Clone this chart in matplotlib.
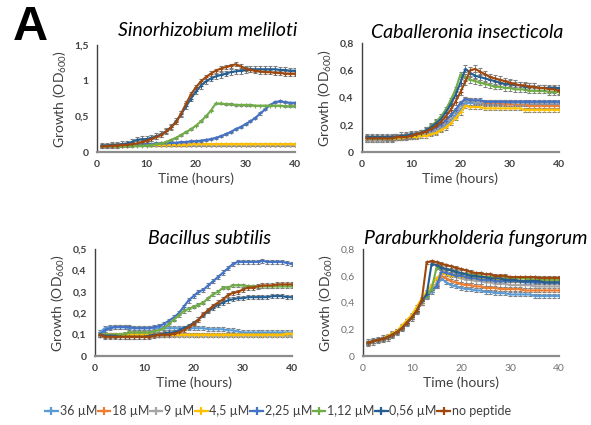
import matplotlib
matplotlib.use("Agg")
import matplotlib.pyplot as plt
from matplotlib.lines import Line2D

plt.rcParams['font.family'] = ['Lato', 'DejaVu Sans']
plt.rcParams['mathtext.default'] = 'regular'

# ---------------- data ----------------
hours = list(range(1, 41))
series_labels = ["36 µM", "18 µM", "9 µM", "4,5 µM", "2,25 µM", "1,12 µM", "0,56 µM", "no peptide"]
series_colors = ["#5B9BD5", "#ED7D31", "#A5A5A5", "#FFC000", "#4472C4", "#70AD47", "#255E91", "#9E480E"]

# Sinorhizobium meliloti
sm_36 = [0.09,0.09,0.09,0.09,0.10,0.10,0.10,0.10,0.10,0.10, 0.10,0.10,0.10,0.10,0.10,0.10,0.10,0.10,0.10,0.10,
         0.10,0.10,0.10,0.10,0.10,0.10,0.10,0.10,0.10,0.10, 0.10,0.10,0.10,0.10,0.10,0.10,0.10,0.10,0.10,0.10]
sm_18 = [0.09,0.09,0.09,0.09,0.09,0.09,0.10,0.10,0.10,0.10, 0.10,0.10,0.10,0.10,0.10,0.10,0.10,0.10,0.10,0.10,
         0.10,0.10,0.10,0.10,0.10,0.10,0.10,0.10,0.10,0.10, 0.10,0.10,0.10,0.10,0.10,0.10,0.10,0.10,0.10,0.10]
sm_9 = [0.09,0.09,0.09,0.10,0.10,0.10,0.10,0.10,0.10,0.10, 0.10,0.10,0.10,0.10,0.10,0.10,0.10,0.10,0.10,0.10,
        0.10,0.10,0.10,0.10,0.10,0.10,0.10,0.10,0.10,0.10, 0.10,0.10,0.10,0.10,0.10,0.10,0.10,0.10,0.10,0.10]
sm_4_5 = [0.09,0.09,0.10,0.10,0.10,0.10,0.10,0.10,0.10,0.10, 0.10,0.10,0.10,0.10,0.10,0.10,0.10,0.10,0.11,0.11,
          0.11,0.11,0.11,0.11,0.11,0.11,0.11,0.11,0.11,0.11, 0.11,0.11,0.11,0.11,0.11,0.11,0.11,0.11,0.11,0.11]
sm_2_25 = [0.09,0.09,0.09,0.10,0.10,0.10,0.10,0.10,0.11,0.11, 0.11,0.12,0.12,0.12,0.13,0.13,0.14,0.14,0.15,0.15,
           0.16,0.17,0.18,0.20,0.22,0.25,0.28,0.32,0.35,0.39, 0.43,0.48,0.54,0.60,0.66,0.70,0.71,0.70,0.69,0.69]
sm_1_12 = [0.08,0.08,0.08,0.08,0.08,0.08,0.08,0.09,0.09,0.09, 0.10,0.11,0.12,0.14,0.17,0.20,0.24,0.28,0.32,0.37,
           0.43,0.50,0.58,0.68,0.68,0.67,0.67,0.66,0.66,0.66, 0.66,0.65,0.65,0.65,0.65,0.65,0.65,0.64,0.64,0.64]
sm_0_56 = [0.09,0.09,0.10,0.10,0.11,0.12,0.14,0.17,0.18,0.18, 0.20,0.22,0.25,0.29,0.35,0.43,0.53,0.64,0.75,0.85,
           0.93,0.99,1.03,1.06,1.08,1.10,1.12,1.13,1.14,1.15, 1.16,1.16,1.16,1.16,1.16,1.16,1.15,1.15,1.14,1.14]
sm_none = [0.08,0.08,0.09,0.09,0.10,0.10,0.11,0.12,0.14,0.16, 0.18,0.21,0.24,0.29,0.35,0.42,0.54,0.68,0.81,0.91,
           0.99,1.05,1.10,1.14,1.17,1.19,1.21,1.23,1.20,1.17, 1.15,1.14,1.13,1.12,1.12,1.11,1.11,1.10,1.10,1.10]
sm_err = [0.01, 0.01, 0.01, 0.01, 0.015, 0.012, 0.04, 0.03]

# Caballeronia insecticola
ci_36 = [0.10,0.10,0.10,0.10,0.10,0.10,0.10,0.10,0.11,0.11, 0.11,0.12,0.13,0.14,0.15,0.17,0.19,0.23,0.27,0.31,
         0.36,0.36,0.36,0.36,0.36,0.36,0.36,0.36,0.36,0.35, 0.35,0.35,0.35,0.35,0.35,0.35,0.35,0.35,0.35,0.35]
ci_18 = [0.10,0.10,0.10,0.10,0.10,0.10,0.11,0.11,0.11,0.12, 0.12,0.13,0.14,0.15,0.17,0.19,0.22,0.26,0.30,0.35,
         0.39,0.38,0.37,0.37,0.36,0.36,0.36,0.36,0.35,0.35, 0.35,0.35,0.35,0.34,0.34,0.34,0.34,0.34,0.34,0.34]
ci_9 = [0.09,0.09,0.09,0.09,0.10,0.10,0.10,0.11,0.11,0.11, 0.12,0.13,0.14,0.15,0.17,0.19,0.22,0.26,0.30,0.34,
        0.38,0.38,0.37,0.37,0.37,0.37,0.37,0.37,0.37,0.37, 0.36,0.36,0.36,0.36,0.36,0.36,0.36,0.36,0.36,0.36]
ci_4_5 = [0.10,0.10,0.10,0.10,0.10,0.10,0.10,0.10,0.11,0.11, 0.11,0.12,0.12,0.13,0.14,0.16,0.18,0.21,0.25,0.29,
          0.34,0.33,0.33,0.33,0.32,0.32,0.32,0.32,0.32,0.32, 0.32,0.32,0.31,0.31,0.31,0.31,0.31,0.31,0.31,0.31]
ci_2_25 = [0.10,0.10,0.10,0.10,0.11,0.11,0.11,0.11,0.12,0.12, 0.13,0.14,0.15,0.16,0.18,0.20,0.23,0.27,0.31,0.36,
           0.39,0.38,0.38,0.38,0.37,0.37,0.37,0.37,0.37,0.37, 0.37,0.37,0.37,0.37,0.37,0.37,0.37,0.37,0.37,0.37]
ci_1_12 = [0.10,0.10,0.10,0.10,0.10,0.10,0.11,0.11,0.12,0.12, 0.13,0.14,0.16,0.19,0.22,0.26,0.31,0.38,0.46,0.57,
           0.55,0.53,0.52,0.51,0.50,0.49,0.48,0.48,0.47,0.47, 0.46,0.46,0.46,0.45,0.45,0.45,0.45,0.44,0.44,0.44]
ci_0_56 = [0.11,0.11,0.11,0.11,0.11,0.11,0.11,0.12,0.12,0.13, 0.13,0.14,0.16,0.18,0.21,0.24,0.29,0.35,0.42,0.51,
           0.61,0.58,0.56,0.55,0.54,0.53,0.52,0.51,0.50,0.50, 0.49,0.49,0.48,0.48,0.48,0.47,0.47,0.47,0.47,0.47]
ci_none = [0.10,0.10,0.10,0.10,0.10,0.10,0.11,0.11,0.11,0.12, 0.13,0.14,0.15,0.17,0.19,0.22,0.26,0.31,0.37,0.44,
           0.52,0.60,0.61,0.59,0.57,0.55,0.54,0.53,0.52,0.51, 0.50,0.49,0.49,0.48,0.48,0.47,0.47,0.46,0.46,0.45]
ci_err = [0.015, 0.015, 0.015, 0.015, 0.015, 0.02, 0.025, 0.025]

# Bacillus subtilis
bs_36 = [0.11,0.13,0.135,0.135,0.135,0.135,0.13,0.13,0.13,0.13, 0.13,0.13,0.13,0.13,0.13,0.13,0.13,0.13,0.13,0.13,
         0.13,0.13,0.125,0.125,0.125,0.125,0.12,0.12,0.115,0.11, 0.11,0.11,0.11,0.11,0.11,0.11,0.11,0.11,0.11,0.11]
bs_18 = [0.10,0.10,0.10,0.10,0.10,0.10,0.10,0.10,0.10,0.10, 0.10,0.10,0.10,0.10,0.10,0.10,0.10,0.10,0.10,0.10,
         0.10,0.10,0.10,0.10,0.10,0.10,0.10,0.10,0.10,0.10, 0.10,0.10,0.10,0.10,0.10,0.10,0.10,0.10,0.10,0.10]
bs_9 = [0.095,0.095,0.095,0.095,0.095,0.095,0.095,0.095,0.095,0.095, 0.095,0.095,0.095,0.095,0.095,0.095,0.095,0.095,0.095,0.095,
        0.095,0.095,0.095,0.095,0.095,0.095,0.095,0.095,0.095,0.095, 0.095,0.095,0.095,0.095,0.095,0.095,0.095,0.095,0.095,0.095]
bs_4_5 = [0.10,0.10,0.10,0.10,0.10,0.10,0.10,0.10,0.10,0.10, 0.10,0.10,0.10,0.10,0.10,0.10,0.10,0.10,0.10,0.10,
          0.10,0.10,0.10,0.10,0.10,0.10,0.10,0.10,0.10,0.10, 0.10,0.10,0.10,0.10,0.10,0.10,0.10,0.10,0.105,0.105]
bs_2_25 = [0.10,0.12,0.13,0.135,0.135,0.135,0.135,0.13,0.13,0.13, 0.13,0.135,0.14,0.15,0.165,0.18,0.20,0.23,0.26,0.28,
           0.30,0.31,0.33,0.35,0.37,0.39,0.41,0.43,0.44,0.44, 0.44,0.44,0.44,0.445,0.44,0.44,0.44,0.44,0.435,0.43]
bs_1_12 = [0.10,0.10,0.10,0.10,0.10,0.105,0.11,0.11,0.11,0.11, 0.11,0.115,0.12,0.13,0.15,0.17,0.19,0.21,0.22,0.23,
           0.24,0.25,0.27,0.29,0.30,0.32,0.32,0.33,0.33,0.33, 0.325,0.325,0.325,0.325,0.325,0.325,0.325,0.325,0.325,0.325]
bs_0_56 = [0.10,0.095,0.095,0.095,0.09,0.09,0.09,0.09,0.09,0.09, 0.095,0.10,0.10,0.105,0.11,0.11,0.12,0.13,0.14,0.155,
           0.17,0.19,0.21,0.225,0.24,0.25,0.26,0.265,0.27,0.27, 0.275,0.275,0.275,0.275,0.275,0.28,0.28,0.28,0.275,0.275]
bs_none = [0.10,0.09,0.09,0.09,0.09,0.09,0.09,0.09,0.09,0.09, 0.09,0.095,0.10,0.10,0.10,0.105,0.11,0.12,0.135,0.15,
           0.17,0.195,0.215,0.235,0.25,0.265,0.285,0.295,0.30,0.31, 0.32,0.32,0.325,0.33,0.33,0.33,0.335,0.335,0.335,0.335]
bs_err = [0.01, 0.008, 0.008, 0.008, 0.01, 0.008, 0.01, 0.01]

# Paraburkholderia fungorum
pf_36 = [0.10,0.11,0.12,0.13,0.14,0.16,0.18,0.21,0.25,0.29, 0.34,0.40,0.44,0.48,0.52,0.58,0.55,0.53,0.52,0.51,
         0.50,0.50,0.49,0.49,0.48,0.48,0.47,0.47,0.47,0.46, 0.46,0.46,0.46,0.46,0.45,0.45,0.45,0.45,0.45,0.45]
pf_18 = [0.10,0.11,0.12,0.13,0.14,0.16,0.18,0.21,0.25,0.29, 0.34,0.40,0.45,0.49,0.54,0.60,0.58,0.56,0.55,0.54,
         0.53,0.53,0.52,0.52,0.51,0.51,0.51,0.50,0.50,0.50, 0.50,0.50,0.49,0.49,0.49,0.49,0.49,0.49,0.49,0.49]
pf_9 = [0.10,0.11,0.12,0.13,0.14,0.16,0.18,0.21,0.25,0.29, 0.34,0.41,0.46,0.50,0.54,0.62,0.61,0.60,0.59,0.58,
        0.57,0.57,0.56,0.56,0.55,0.55,0.54,0.54,0.54,0.53, 0.53,0.53,0.53,0.53,0.52,0.52,0.52,0.52,0.52,0.52]
pf_4_5 = [0.10,0.11,0.12,0.13,0.15,0.17,0.19,0.23,0.27,0.31, 0.37,0.43,0.48,0.53,0.58,0.62,0.61,0.60,0.60,0.59,
          0.59,0.58,0.58,0.58,0.57,0.57,0.57,0.57,0.57,0.56, 0.56,0.56,0.56,0.56,0.56,0.56,0.56,0.56,0.56,0.56]
pf_2_25 = [0.10,0.11,0.12,0.13,0.14,0.16,0.18,0.21,0.25,0.29, 0.34,0.41,0.46,0.49,0.52,0.63,0.62,0.61,0.60,0.60,
           0.59,0.58,0.58,0.57,0.57,0.57,0.56,0.56,0.56,0.56, 0.56,0.56,0.55,0.55,0.55,0.55,0.55,0.55,0.55,0.55]
pf_1_12 = [0.10,0.11,0.12,0.13,0.14,0.16,0.18,0.21,0.25,0.29, 0.34,0.41,0.45,0.50,0.66,0.66,0.65,0.64,0.63,0.62,
           0.61,0.61,0.60,0.60,0.59,0.59,0.59,0.58,0.58,0.58, 0.58,0.58,0.58,0.57,0.57,0.57,0.57,0.57,0.57,0.57]
pf_0_56 = [0.10,0.11,0.12,0.13,0.14,0.16,0.18,0.21,0.25,0.29, 0.34,0.41,0.46,0.69,0.68,0.66,0.65,0.64,0.63,0.62,
           0.61,0.60,0.60,0.59,0.59,0.58,0.58,0.58,0.57,0.57, 0.57,0.56,0.56,0.56,0.56,0.56,0.55,0.55,0.55,0.55]
pf_none = [0.10,0.11,0.12,0.13,0.14,0.16,0.18,0.21,0.25,0.29, 0.34,0.42,0.70,0.71,0.70,0.69,0.68,0.67,0.66,0.65,
           0.64,0.63,0.62,0.62,0.61,0.61,0.60,0.60,0.60,0.59, 0.59,0.59,0.59,0.59,0.59,0.585,0.585,0.585,0.585,0.585]
pf_err = [0.015, 0.015, 0.025, 0.01, 0.01, 0.01, 0.01, 0.01]

titles = ["Sinorhizobium meliloti", "Caballeronia insecticola", "Bacillus subtilis", "Paraburkholderia fungorum"]
x_ticks = [0, 10, 20, 30, 40]
y_ticks_sm = [0, 0.5, 1, 1.5]
y_labels_sm = ["0", "0,5", "1", "1,5"]
y_ticks_08 = [0, 0.2, 0.4, 0.6, 0.8]
y_labels_08 = ["0", "0,2", "0,4", "0,6", "0,8"]
y_ticks_05 = [0, 0.1, 0.2, 0.3, 0.4, 0.5]
y_labels_05 = ["0", "0,1", "0,2", "0,3", "0,4", "0,5"]

panels = [
    dict(data=[sm_36, sm_18, sm_9, sm_4_5, sm_2_25, sm_1_12, sm_0_56, sm_none], err=sm_err,
         yt=y_ticks_sm, yl=y_labels_sm, rect=(97, 45, 295, 152), title_xy=(208, 31), bold=True),
    dict(data=[ci_36, ci_18, ci_9, ci_4_5, ci_2_25, ci_1_12, ci_0_56, ci_none], err=ci_err,
         yt=y_ticks_08, yl=y_labels_08, rect=(362, 43, 559, 152), title_xy=(467, 32), bold=True),
    dict(data=[bs_36, bs_18, bs_9, bs_4_5, bs_2_25, bs_1_12, bs_0_56, bs_none], err=bs_err,
         yt=y_ticks_05, yl=y_labels_05, rect=(95, 249, 292, 356), title_xy=(210, 238), bold=True),
    dict(data=[pf_36, pf_18, pf_9, pf_4_5, pf_2_25, pf_1_12, pf_0_56, pf_none], err=pf_err,
         yt=y_ticks_08, yl=y_labels_08, rect=(363, 249, 559, 356), title_xy=(476, 238), bold=False),
]

W, H = 591, 425
fig = plt.figure(figsize=(W / 100, H / 100), dpi=100)

for p, title in zip(panels, titles):
    l, t, r, b = p["rect"]
    ax = fig.add_axes([l / W, 1 - b / H, (r - l) / W, (b - t) / H])
    for vals, col, e in zip(p["data"], series_colors, p["err"]):
        ax.errorbar(hours, vals, yerr=e, color=col, lw=1.5, marker='+', ms=3, mew=0.8,
                    ecolor='#808080', elinewidth=0.6, capsize=1.3, capthick=0.6)
    ax.set_xlim(0, 40)
    ax.set_ylim(p["yt"][0], p["yt"][-1])
    ax.set_xticks(x_ticks)
    ax.set_xticklabels([str(v) for v in x_ticks])
    ax.set_yticks(p["yt"])
    ax.set_yticklabels(p["yl"])
    fw = 'bold' if p["bold"] else 'normal'
    tc = '#404040' if p["bold"] else '#707070'
    ax.tick_params(length=0, labelsize=7.5, pad=6, colors=tc)
    for lab in ax.get_xticklabels() + ax.get_yticklabels():
        lab.set_fontweight(fw)
    for s in ("top", "right"):
        ax.spines[s].set_visible(False)
    ax.spines["left"].set_color('#404040')
    ax.spines["left"].set_linewidth(1.0)
    ax.spines["bottom"].set_color('#8c8c8c')
    ax.spines["bottom"].set_linewidth(1.6)
    ax.set_xlabel("Time (hours)", fontsize=10, color='#404040', labelpad=2)
    ax.set_ylabel("Growth (OD$_{600}$)", fontsize=10, color='#404040', labelpad=4)
    tx, ty = p["title_xy"]
    fig.text(tx / W, 1 - ty / H, title, fontsize=14, style='italic', ha='center', va='center', color='black')

fig.text(13 / W, 1 - 28 / H, "A", fontsize=35, fontweight='bold', ha='left', va='center',
         family=['Liberation Sans', 'DejaVu Sans'])

handles = [Line2D([0], [0], color=c, lw=1.6, marker='+', ms=6, mew=1.6) for c in series_colors]
fig.legend(handles, series_labels, loc='center', bbox_to_anchor=(278 / W, 1 - 411 / H), ncol=8,
           frameon=False, fontsize=9, handlelength=1.0, handletextpad=0.15, columnspacing=0.05,
           labelcolor='#404040')

fig.savefig("out.png", dpi=100)
